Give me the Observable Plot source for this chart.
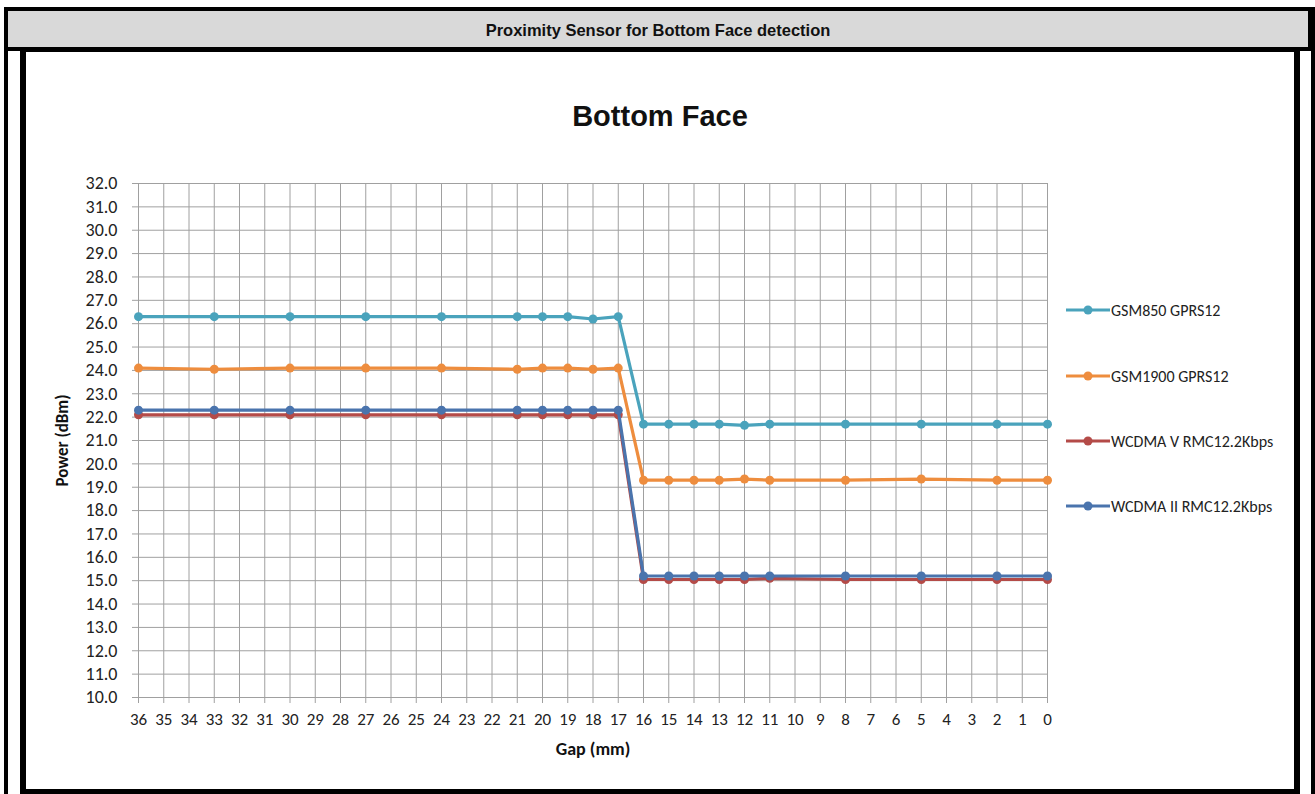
<!DOCTYPE html>
<html>
<head>
<meta charset="utf-8">
<script src="https://cdn.jsdelivr.net/npm/d3@7"></script>
<script src="https://cdn.jsdelivr.net/npm/@observablehq/plot@0.6"></script>
<style>
  html, body { margin: 0; padding: 0; background: #fff; }
  #page { position: relative; width: 1315px; height: 794px; overflow: hidden; background: #fff; }
  .abs { position: absolute; }
  #header { left: 4px; top: 7px; width: 1300px; height: 36px; background: #d9d9d9;
            border: 4px solid #000; border-bottom: 4px solid #000;
            font-family: "Liberation Sans", Arial, sans-serif; font-weight: bold; font-size: 16.5px;
            color: #111; text-align: center; line-height: 38px; }
  #outerL { left: 4px; top: 7px; width: 4px; height: 787px; background: #000; }
  #outerR { left: 1311px; top: 7px; width: 4px; height: 787px; background: #000; }
  #inner { left: 20px; top: 47px; width: 1268px; height: 737px; border: 5px solid #000; border-width: 5px 6px 5px 6px; }
  #chartTitle { left: 26px; width: 1268px; top: 99px; line-height: 34px; text-align: center;
                font-family: "Liberation Sans", Arial, sans-serif; font-weight: bold; font-size: 29px; color: #111; }
  #plotwrap { left: 26px; top: 52px; }
  .leg { position: absolute; left: 1066px; height: 18px; display: flex; align-items: center;
         font-family: Carlito, Lato, sans-serif; font-size: 16px; color: #222; white-space: nowrap; }
  .leg svg { margin-right: 1px; }
</style>
</head>
<body>
<div id="page">
  <div id="outerL" class="abs"></div>
  <div id="outerR" class="abs"></div>
  <div id="header" class="abs">Proximity Sensor for Bottom Face detection</div>
  <div id="inner" class="abs"></div>
  <div id="chartTitle" class="abs">Bottom Face</div>
  <div id="plotwrap" class="abs"></div>
  <div id="legend"></div>
</div>
<script>
// ---- data ----
const gaps = [36, 33, 30, 27, 24, 21, 20, 19, 18, 17, 16, 15, 14, 13, 12, 11, 8, 5, 2, 0];
const gsm850 = [26.3, 26.3, 26.3, 26.3, 26.3, 26.3, 26.3, 26.3, 26.2, 26.3, 21.7, 21.7, 21.7, 21.7, 21.65, 21.7, 21.7, 21.7, 21.7, 21.7];
const gsm1900 = [24.1, 24.05, 24.1, 24.1, 24.1, 24.05, 24.1, 24.1, 24.05, 24.1, 19.3, 19.3, 19.3, 19.3, 19.35, 19.3, 19.3, 19.35, 19.3, 19.3];
const wcdmaV = [22.1, 22.1, 22.1, 22.1, 22.1, 22.1, 22.1, 22.1, 22.1, 22.1, 15.05, 15.05, 15.05, 15.05, 15.05, 15.1, 15.05, 15.05, 15.05, 15.05];
const wcdmaII = [22.3, 22.3, 22.3, 22.3, 22.3, 22.3, 22.3, 22.3, 22.3, 22.3, 15.2, 15.2, 15.2, 15.2, 15.2, 15.2, 15.2, 15.2, 15.2, 15.2];
const seriesNames = ["GSM850 GPRS12", "GSM1900 GPRS12", "WCDMA V RMC12.2Kbps", "WCDMA II RMC12.2Kbps"];
const seriesValues = [gsm850, gsm1900, wcdmaV, wcdmaII];
const seriesColors = ["#4AA3BC", "#EE8D3E", "#B44B48", "#4A74AD"];
const xTicks = d3.range(36, -1, -1);
const yTicks = d3.range(10, 33, 1);

const series = seriesNames.map((name, k) => ({
  name, color: seriesColors[k],
  rows: gaps.map((g, i) => ({ gap: g, power: seriesValues[k][i], name }))
}));

const gridColor = "#a0a0a0";
const marks = [
  Plot.gridX(xTicks, { stroke: gridColor, strokeOpacity: 1 }),
  Plot.gridY(yTicks, { stroke: gridColor, strokeOpacity: 1 }),
  Plot.axisX(xTicks, { tickSize: 6, tickPadding: 9, stroke: gridColor, fill: "#222", label: null, tickFormat: d => String(d), fontSize: 17 }),
  Plot.axisY(yTicks, { tickSize: 6, tickPadding: 15, stroke: gridColor, fill: "#222", label: null, tickFormat: d => d.toFixed(1), fontSize: 18 }),
  Plot.text(["Power (dBm)"], { frameAnchor: "left", textAnchor: "middle", dx: -76, rotate: -90, fontWeight: "bold", fontSize: 17, fill: "#111" }),
  Plot.text(["Gap (mm)"], { frameAnchor: "bottom", textAnchor: "middle", dy: 57, fontWeight: "bold", fontSize: 18, fill: "#111" })
];
for (const s of series) {
  marks.push(Plot.line(s.rows, { x: "gap", y: "power", stroke: s.color, strokeWidth: 3.2 }));
  marks.push(Plot.dot(s.rows, { x: "gap", y: "power", fill: s.color, r: 4.5 }));
}

const chart = Plot.plot({
  width: 1268, height: 738,
  marginLeft: 112, marginRight: 247, marginTop: 131, marginBottom: 93,
  x: { domain: [36, 0] },
  y: { domain: [10, 32] },
  style: { fontFamily: "Carlito, Lato, sans-serif", fontSize: "17px", color: "#222", background: "transparent" },
  marks
});
document.getElementById("plotwrap").appendChild(chart);

// ---- legend ----
const legendTops = [310, 376, 441, 506];
const leg = document.getElementById("legend");
series.forEach((s, k) => {
  const d = document.createElement("div");
  d.className = "leg";
  d.style.top = (legendTops[k] - 9) + "px";
  d.innerHTML = `<svg width="44" height="18"><line x1="0" x2="44" y1="9" y2="9" stroke="${s.color}" stroke-width="3.2"/><circle cx="22" cy="9" r="4.5" fill="${s.color}"/></svg><span>${s.name}</span>`;
  leg.appendChild(d);
});
</script>
</body>
</html>
